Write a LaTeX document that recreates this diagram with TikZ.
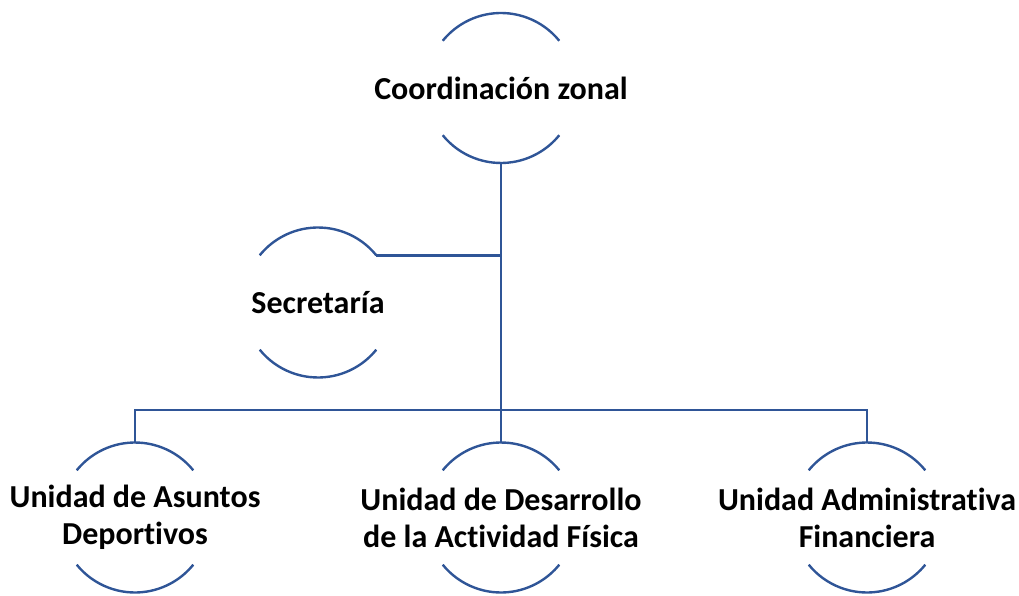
\documentclass[tikz,border=0pt]{standalone}
\usepackage{fontspec}
\setmainfont{Carlito}[Ligatures = NoCommon]
\definecolor{ringblue}{RGB}{47,85,151}
\begin{document}
\begin{tikzpicture}
    [x = 1pt, y = 1pt,
     unit/.style = {circle, minimum size = 150pt, inner sep = 0pt, outer sep = 0pt},
     every label/.style = {align = center, font = \fontsize{32}{37}\selectfont\bfseries},
     link/.style = {draw = ringblue, line width = 2.4pt}]
    \useasboundingbox (0,0) rectangle (1019,595);
    \node[unit, label = center:{Coordinación zonal}] (cz) at (501,507) {};
    \node[unit, label = center:{Secretaría}] (sec) at (318,292.5) {};
    \node[unit, label = center:{Unidad de Asuntos\\Deportivos}] (uad) at (135,77.5) {};
    \node[unit, label = center:{Unidad de Desarrollo\\de la Actividad Física}] (udaf) at (501,77.5) {};
    \node[unit, label = center:{Unidad Administrativa\\Financiera}] (uaf) at (867,77.5) {};
    \coordinate (bus) at (501,185);
    \foreach \n in {cz,sec,uad,udaf,uaf}
      \draw[link] (\n.39) arc (39:141:75) (\n.219) arc (219:321:75);
    \draw[link] (cz.south) -- (udaf.north);
    \draw[link] (sec.39) -- (sec.39 -| cz.south);
    \draw[link] (uad.north) |- (bus) -| (uaf.north);
  \end{tikzpicture}
\end{document}
